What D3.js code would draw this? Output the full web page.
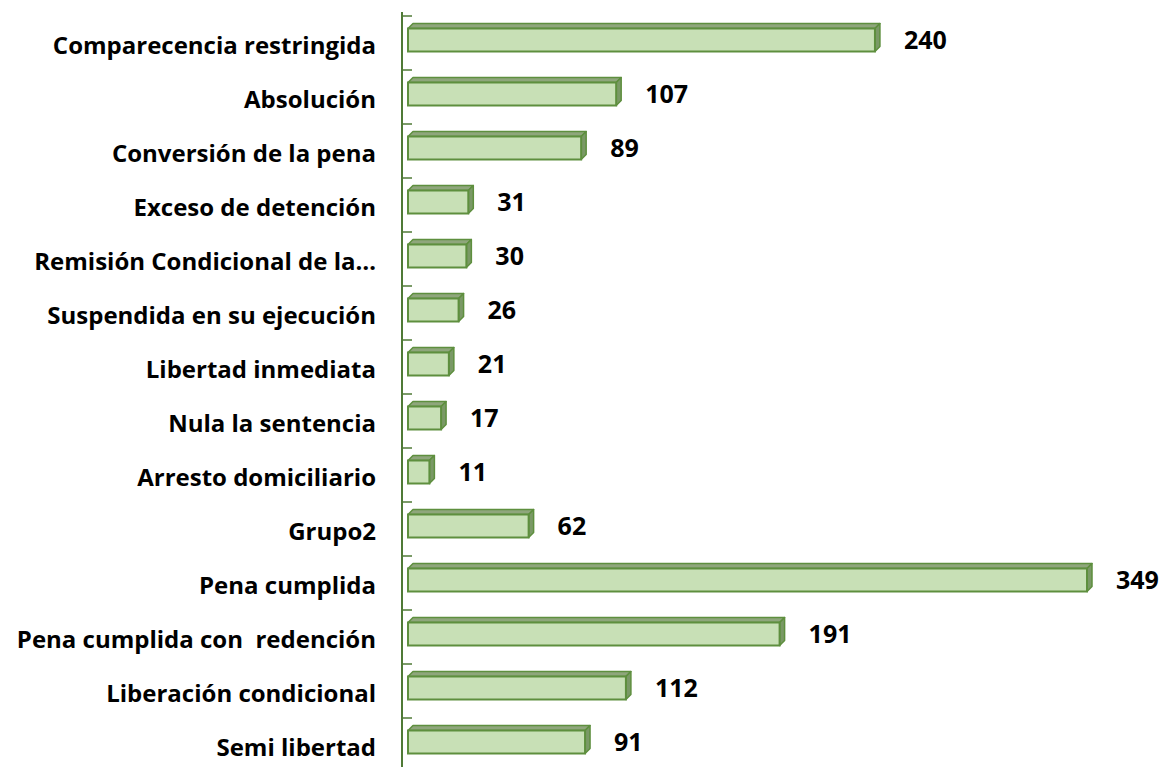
<!DOCTYPE html>
<html>
<head>
<meta charset="utf-8">
<script src="https://cdn.jsdelivr.net/npm/d3@7"></script>
<style>
  body { margin: 0; background: #fff; }
  svg text { font-family: "Open Sans", "Liberation Sans", sans-serif; font-weight: bold; fill: #000; white-space: pre; }
</style>
</head>
<body>
<svg id="chart" width="1163" height="767"></svg>
<script>
var categories = ["Comparecencia restringida", "Absolución", "Conversión de la pena",
  "Exceso de detención", "Remisión Condicional de la…", "Suspendida en su ejecución",
  "Libertad inmediata", "Nula la sentencia", "Arresto domiciliario", "Grupo2",
  "Pena cumplida", "Pena cumplida con  redención", "Liberación condicional", "Semi libertad"]
var values = [240, 107, 89, 31, 30, 26, 21, 17, 11, 62, 349, 191, 112, 91]

var svg = d3.select("#chart")
var depth = 5
var barH = 23

var x = d3.scaleLinear().domain([0, 349]).range([408, 1087])
var y = d3.scaleBand().domain(categories).range([16, 772])

// axis line + ticks
var axisG = svg.append("g")
axisG.append("line")
  .attr("x1", 402).attr("x2", 402)
  .attr("y1", 12).attr("y2", 767)
  .attr("stroke", "#4f7a36").attr("stroke-width", 2)
axisG.selectAll("line.tick")
  .data(categories)
  .enter().append("line")
  .attr("class", "tick")
  .attr("x1", 402).attr("x2", 412)
  .attr("y1", function (d) { return y(d) }).attr("y2", function (d) { return y(d) })
  .attr("stroke", "#4f7a36").attr("stroke-width", 1.5)

var bars = svg.append("g").selectAll("g")
  .data(values)
  .enter().append("g")

function barTop(i) { return y(categories[i]) + 12.5 }

// top face
bars.append("path")
  .attr("d", function (d, i) {
    var x0 = x(0), x1 = x(d), t = barTop(i)
    return "M" + x0 + "," + t + "L" + (x0 + depth) + "," + (t - depth) +
      "L" + (x1 + depth) + "," + (t - depth) + "L" + x1 + "," + t + "Z"
  })
  .attr("fill", "#8fa67c").attr("stroke", "#5e8f3e").attr("stroke-width", 1.5)
  .attr("stroke-linejoin", "round")

// side face
bars.append("path")
  .attr("d", function (d, i) {
    var x1 = x(d), t = barTop(i)
    return "M" + x1 + "," + t + "L" + (x1 + depth) + "," + (t - depth) +
      "L" + (x1 + depth) + "," + (t - depth + barH) + "L" + x1 + "," + (t + barH) + "Z"
  })
  .attr("fill", "#7a9966").attr("stroke", "#5e8f3e").attr("stroke-width", 1.5)
  .attr("stroke-linejoin", "round")

// front face
bars.append("rect")
  .attr("x", x(0))
  .attr("y", function (d, i) { return barTop(i) })
  .attr("width", function (d) { return x(d) - x(0) })
  .attr("height", barH)
  .attr("fill", "#c8e0b6").attr("stroke", "#5e8f3e").attr("stroke-width", 2)

// value labels
bars.append("text")
  .attr("x", function (d) { return x(d) + depth + 24 })
  .attr("y", function (d, i) { return y(categories[i]) + y.bandwidth() / 2 - 3 })
  .attr("dy", "0.35em")
  .style("font-size", "25px")
  .text(function (d) { return d })

// category labels
svg.append("g").selectAll("text")
  .data(categories)
  .enter().append("text")
  .attr("x", 376)
  .attr("y", function (d) { return y(d) + y.bandwidth() / 2 + 3 })
  .attr("dy", "0.35em")
  .attr("text-anchor", "end")
  .style("font-size", "24px")
  .text(function (d) { return d })
</script>
</body>
</html>
